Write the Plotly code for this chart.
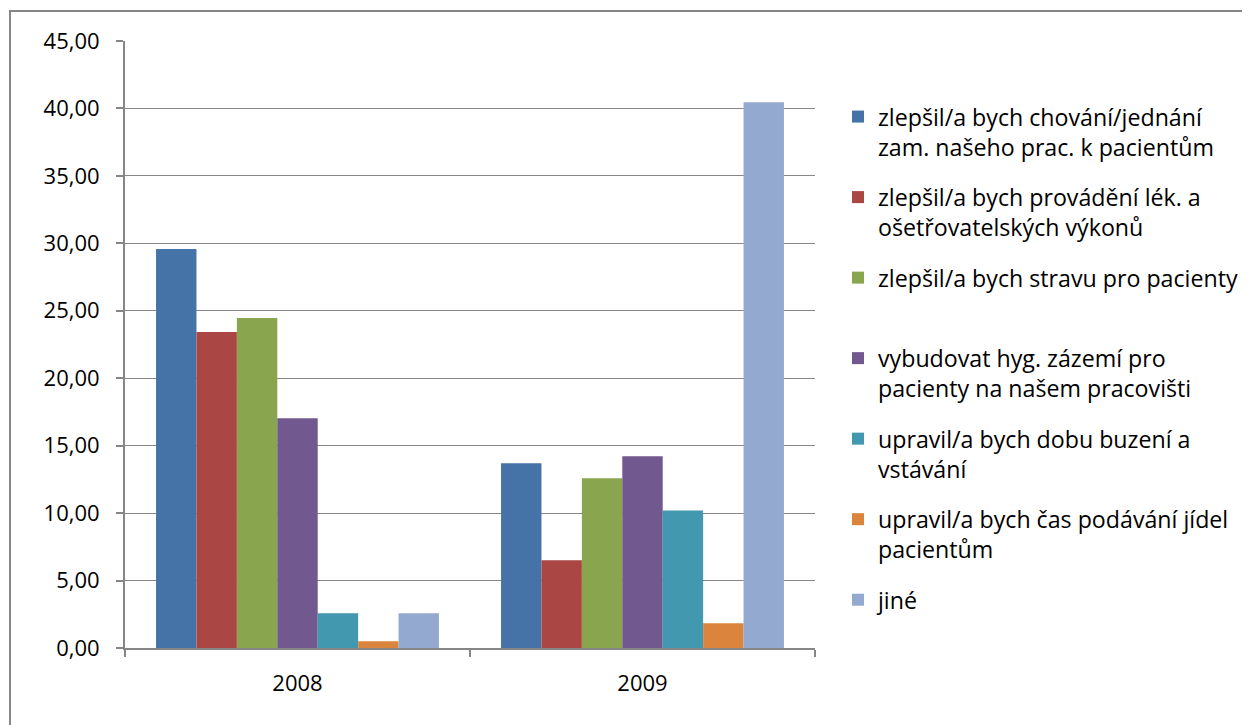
import plotly.graph_objects as go

categories = ["2008", "2009"]
series_names = [
    "zlepšil/a bych chování/jednání<br>zam. našeho prac. k pacientům",
    "zlepšil/a bych provádění lék. a<br>ošetřovatelských výkonů",
    "zlepšil/a bych stravu pro pacienty<br> ",
    "vybudovat hyg. zázemí pro<br>pacienty na našem pracovišti",
    "upravil/a bych dobu buzení a<br>vstávání",
    "upravil/a bych čas podávání jídel<br>pacientům",
    "jiné",
]
values_chovani = [29.58, 13.69]
values_provadeni = [23.42, 6.50]
values_strava = [24.46, 12.59]
values_hyg = [17.04, 14.21]
values_buzeni = [2.57, 10.20]
values_jidla = [0.50, 1.84]
values_jine = [2.57, 40.45]
series_values = [values_chovani, values_provadeni, values_strava, values_hyg,
                 values_buzeni, values_jidla, values_jine]
colors = ["#4572A7", "#AA4643", "#89A54E", "#71588F", "#4198AF", "#DB843D", "#93A9CF"]
y_ticks = [0, 5, 10, 15, 20, 25, 30, 35, 40, 45]

FONT = "Open Sans"
# page is offset by 8px in the browser; compensate in the margins
OFF = 8
L, R, T, B = 125 - OFF, 815 - OFF, 41 - OFF, 648 - OFF
W, H = 1250, 725
PW, PH = R - L, B - T

fig = go.Figure()
for i, (name, vals, col) in enumerate(zip(series_names, series_values, colors)):
    fig.add_trace(go.Bar(
        x=categories, y=vals, name=name, marker=dict(color=col, line=dict(width=0)),
        legendgroup=f"g{i}",
    ))

fig.update_layout(
    width=W, height=H,
    paper_bgcolor="white", plot_bgcolor="white",
    separators=", ",
    barmode="group", bargap=0.18, bargroupgap=0,
    margin=dict(l=L, r=W - R, t=T, b=H - B, autoexpand=False),
    font=dict(family=FONT, size=21, color="#000000"),
    legend=dict(
        x=(838 - OFF - L) / PW, y=(B - (95 - OFF)) / PH, xanchor="left", yanchor="top",
        traceorder="grouped", tracegroupgap=17.2, valign="top",
        font=dict(family=FONT, size=23.2, color="#000000"),
        itemwidth=30, bgcolor="rgba(0,0,0,0)",
    ),
    showlegend=True,
    shapes=[dict(type="rect", xref="paper", yref="paper",
                 x0=(10 - OFF - L) / PW, x1=(1270 - L) / PW,
                 y0=(B - 760) / PH, y1=(B - (11 - OFF)) / PH,
                 line=dict(color="#868686", width=2), fillcolor="rgba(0,0,0,0)", layer="below")],
)
fig.update_xaxes(
    type="category", showline=True, linecolor="#868686", linewidth=2,
    ticks="outside", ticklen=7, tickcolor="#868686", tickwidth=1.5,
    tickson="boundaries", showgrid=False, ticklabelstandoff=15,
    tickfont=dict(family=FONT, size=22, color="#000000"),
)
fig.update_yaxes(
    range=[0, 45], tickvals=y_ticks, tickformat=".2f",
    showline=True, linecolor="#868686", linewidth=2,
    ticks="outside", ticklen=7, tickcolor="#868686", tickwidth=1.5,
    showgrid=True, gridcolor="#868686", gridwidth=1.2, zeroline=False,
    ticklabelstandoff=12,
    tickfont=dict(family=FONT, size=22, color="#000000"),
)
fig.write_html("out.html")
